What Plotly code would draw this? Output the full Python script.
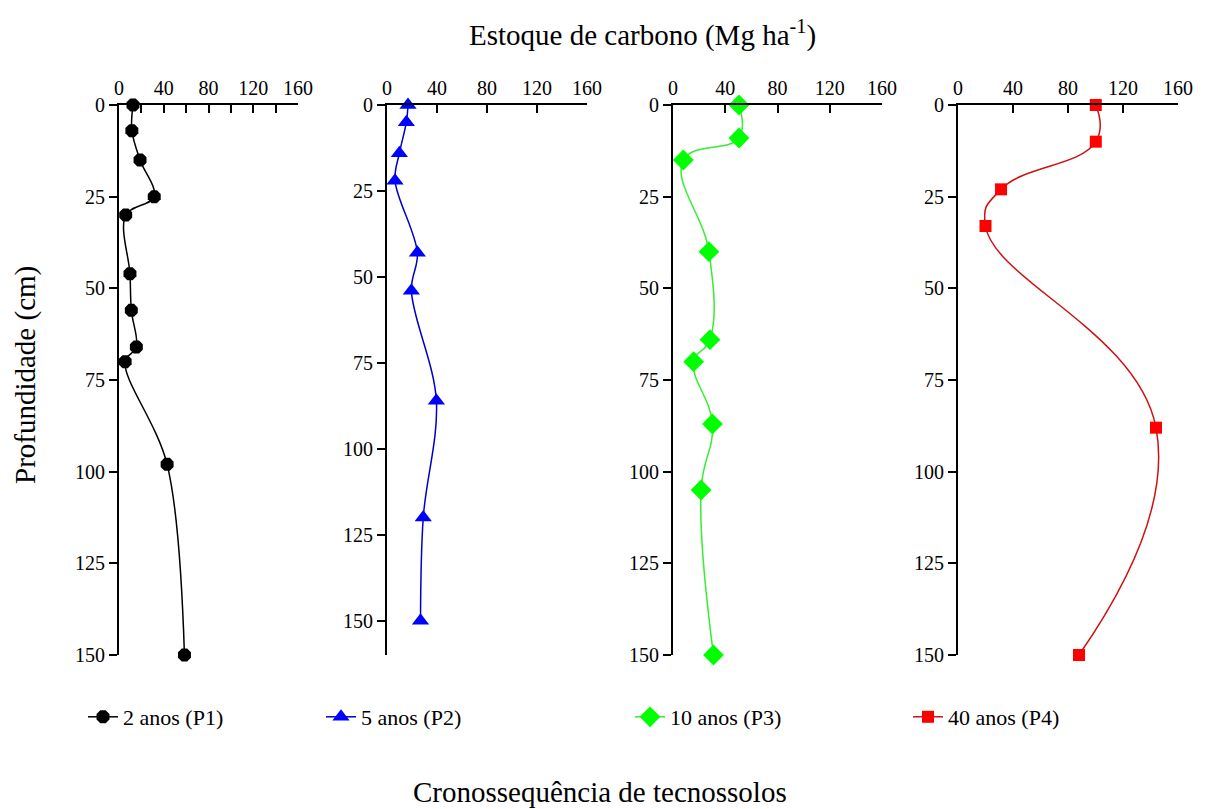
import plotly.graph_objects as go

# ---- data ----
p1_stock = [12.5, 11.5, 18.8, 31.5, 6.0, 9.8, 11.0, 15.5, 5.5, 43.0, 58.5]
p1_depth = [0, 7, 15, 25, 30, 46, 56, 66, 70, 98, 150]

p2_stock = [16.8, 15.5, 9.9, 6.4, 24.3, 19.5, 39.5, 29.0, 26.8]
p2_depth = [0, 5, 14, 22, 43, 54, 86, 120, 150]

p3_stock = [50.5, 50.5, 7.9, 27.5, 28.3, 15.8, 30.2, 21.5, 31.0]
p3_depth = [0, 9, 15, 40, 64, 70, 87, 105, 150]

p4_stock = [100.2, 100.2, 31.3, 20.0, 144.0, 88.0]
p4_depth = [0, 10, 23, 33, 88, 150]

series_names = ["2 anos (P1)", "5 anos (P2)", "10 anos (P3)", "40 anos (P4)"]
x_ticks = [0, 40, 80, 120, 160]
y_ticks = [0, 25, 50, 75, 100, 125, 150]
x_title = "Estoque de carbono (Mg ha<sup>-1</sup>)"
y_title = "Profundidade (cm)"
bottom_title = "Cronossequência de tecnossolos"

FONT = "Liberation Serif, Times New Roman, serif"
W, H = 1205, 809

def px_x(p):
    return p / W

def px_y(p):
    return 1 - p / H

series = [
    (p1_stock, p1_depth, "#000000", "#000000", "octagon", 14, 1.0),
    (p2_stock, p2_depth, "#0000c8", "#0000ff", "triangle-up", 15, 1.0),
    (p3_stock, p3_depth, "#33ee33", "#00ff00", "diamond", 16, 1.2),
    (p4_stock, p4_depth, "#d01010", "#ff0000", "square", 12, 1.3),
]
x_domains = [(119, 298), (387, 587), (673, 882), (958, 1178)]
y_ranges = [[150, 0], [160, 0], [150, 0], [150, 0]]
legend_x = [83, 321, 630, 908]

fig = go.Figure()
layout = dict(
    width=W, height=H,
    margin=dict(l=0, r=0, t=0, b=0, pad=0),
    plot_bgcolor="white", paper_bgcolor="white",
    font=dict(family=FONT, size=20, color="black"),
    showlegend=True,
)

for i, (xs, ys, lc, mc, sym, ms, sm) in enumerate(series):
    k = "" if i == 0 else str(i + 1)
    leg = "legend" if i == 0 else f"legend{i + 1}"
    fig.add_trace(go.Scatter(
        x=xs, y=ys, mode="lines+markers", name=series_names[i],
        xaxis="x" + k, yaxis="y" + k, legend=leg,
        line=dict(color=lc, width=1.5, shape="spline", smoothing=sm),
        marker=dict(color=mc, symbol=sym, size=ms, line=dict(width=0)),
        cliponaxis=False,
    ))
    d0, d1 = x_domains[i]
    xa = dict(
        domain=[px_x(d0), px_x(d1)], range=[0, 160], side="top",
        anchor="y" + k, tickvals=x_ticks, ticks="inside", ticklen=8,
        tickwidth=1.5, tickcolor="black", automargin=False,
        showline=True, linecolor="black", linewidth=2,
        showgrid=False, zeroline=False,
        tickfont=dict(family=FONT, size=20, color="black"),
    )
    if i == 0:
        xa["minor"] = dict(dtick=20, ticks="inside", ticklen=8, tickwidth=1.5, tickcolor="black")
    ya = dict(
        domain=[px_y(655), px_y(105)], range=y_ranges[i],
        anchor="x" + k, tickvals=y_ticks, ticks="outside", ticklen=8,
        tickwidth=1.5, tickcolor="black", automargin=False,
        showline=True, linecolor="black", linewidth=2,
        showgrid=False, zeroline=False,
        tickfont=dict(family=FONT, size=20, color="black"),
    )
    layout["xaxis" + k] = xa
    layout["yaxis" + k] = ya
    layout[leg] = dict(
        x=px_x(legend_x[i]), y=px_y(717), xanchor="left", yanchor="middle",
        orientation="h", bgcolor="rgba(0,0,0,0)", borderwidth=0,
        font=dict(family=FONT, size=22, color="black"),
    )

layout["annotations"] = [
    dict(text=x_title, x=px_x(642), y=px_y(33), xref="paper", yref="paper",
         xanchor="center", yanchor="middle",
         showarrow=False, font=dict(family=FONT, size=29, color="black")),
    dict(text=y_title, x=px_x(25), y=px_y(375), xref="paper", yref="paper",
         xanchor="center", yanchor="middle",
         showarrow=False, textangle=-90, font=dict(family=FONT, size=29, color="black")),
    dict(text=bottom_title, x=px_x(600), y=px_y(792), xref="paper", yref="paper",
         xanchor="center", yanchor="middle",
         showarrow=False, font=dict(family=FONT, size=29, color="black")),
]

fig.update_layout(**layout)
# remove the default 8px page margin so the 1205x809 figure fills the window exactly
fig.write_html(
    "out.html",
    config={"displayModeBar": False},
    post_script="document.body.style.margin='0';document.body.style.overflow='hidden';",
)
